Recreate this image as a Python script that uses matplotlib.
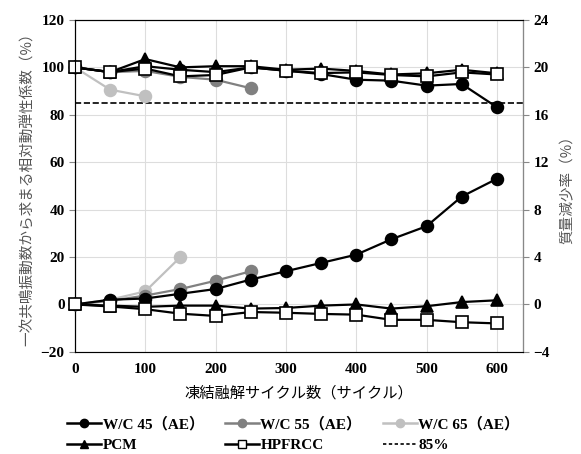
import matplotlib.pyplot as plt
from matplotlib.lines import Line2D
import numpy as np

plt.rcParams['font.family'] = ['Noto Sans CJK JP', 'DejaVu Sans']

cycles = [0, 50, 100, 150, 200, 250, 300, 350, 400, 450, 500, 550, 600]

# relative dynamic modulus (left axis, %)
rdm_wc45 = [100, 98, 100.5, 99, 98, 100, 98.6, 97.2, 94.8, 94.4, 92.3, 93, 83.2]
rdm_wc55 = [100, 98, 98.5, 96, 94.8, 91.2]
rdm_wc65 = [100, 90.6, 87.8]
rdm_pcm = [100, 98, 103.5, 100, 100.5, 100.5, 99, 99.5, 98.5, 97, 97.5, 99, 97.5]
rdm_hpf = [100, 98, 99.5, 96.2, 96.8, 100, 98.6, 97.6, 97.9, 96.8, 96.2, 97.9, 97]

# mass loss (right axis, %)
ml_wc45 = [0, 0.4, 0.5, 0.9, 1.3, 2.1, 2.8, 3.5, 4.2, 5.5, 6.6, 9.1, 10.6]
ml_wc55 = [0, 0.3, 0.75, 1.3, 2.0, 2.8]
ml_wc65 = [0, 0.4, 1.1, 4.0]
ml_pcm = [0, -0.1, -0.2, -0.1, -0.1, -0.35, -0.3, -0.1, 0, -0.35, -0.15, 0.2, 0.35]
ml_hpf = [0, -0.17, -0.4, -0.78, -0.97, -0.64, -0.7, -0.8, -0.86, -1.3, -1.3, -1.5, -1.6]

threshold = 85

fig = plt.figure(figsize=(5.81, 4.54), dpi=100)
ax = fig.add_axes([0.129, 0.225, 0.771, 0.731])
ax2 = ax.twinx()

c45, c55, c65 = 'black', '#808080', '#c0c0c0'
ms = 8.5


def draw(axis, ys, color, marker, mfc):
    x = cycles[:len(ys)]
    axis.plot(x, ys, color=color, lw=1.6, marker=marker, ms=ms,
              mfc=mfc, mec=color, mew=1.2, clip_on=False, zorder=3)


for axis, sets in [(ax, [rdm_wc65, rdm_wc55, rdm_wc45, rdm_pcm, rdm_hpf]),
                   (ax2, [ml_wc65, ml_wc55, ml_wc45, ml_pcm, ml_hpf])]:
    draw(axis, sets[0], c65, 'o', c65)
    draw(axis, sets[1], c55, 'o', c55)
    draw(axis, sets[2], c45, 'o', c45)
    draw(axis, sets[3], 'black', '^', 'black')
    draw(axis, sets[4], 'black', 's', 'white')

ax.axhline(threshold, color='black', ls='--', lw=1.2, zorder=2)

ax.set_xlim(0, 637)
ax.set_ylim(-20, 120)
ax2.set_ylim(-4, 24)
ax.set_xticks(range(0, 601, 100))
ax.set_yticks(range(-20, 121, 20))
ax2.set_yticks(range(-4, 25, 4))
ax.grid(True, color='#dddddd', lw=0.8)
ax.set_axisbelow(True)

for axis in (ax, ax2):
    for lab in axis.get_xticklabels() + axis.get_yticklabels():
        lab.set_fontproperties('Liberation Serif')
        lab.set_fontweight('bold')
        lab.set_fontsize(11)
    axis.tick_params(length=4, width=0.8, color='#888888')

ax.spines['left'].set_color('black')
ax.spines['top'].set_color('black')
ax.spines['bottom'].set_color('#888888')
ax2.spines['right'].set_color('#888888')
ax2.spines['top'].set_color('black')
ax.tick_params(axis='x', length=0, pad=8)

ax.set_xlabel('凍結融解サイクル数（サイクル）', fontsize=11, labelpad=6)
ax.set_ylabel('一次共鳴振動数から求まる相対動弾性係数（%）', fontsize=10.5,
              color='#555555', labelpad=4)
ax2.set_ylabel('質量減少率（%）', fontsize=10.5, color='#555555', labelpad=8)

handles = [
    Line2D([], [], color=c45, marker='o', mfc=c45, ms=6, lw=1.8),
    Line2D([], [], color='black', marker='^', mfc='black', ms=6, lw=1.8),
    Line2D([], [], color=c55, marker='o', mfc=c55, ms=6, lw=1.8),
    Line2D([], [], color='black', marker='s', mfc='white', ms=6, lw=1.8),
    Line2D([], [], color=c65, marker='o', mfc=c65, ms=6, lw=1.8),
    Line2D([], [], color='black', ls=(0, (2, 1.5)), lw=1.2),
]
labels = ['W/C 45（AE）', 'PCM', 'W/C 55（AE）', 'HPFRCC', 'W/C 65（AE）', '85%']
leg = fig.legend(handles, labels, ncol=3, loc='lower center',
                 bbox_to_anchor=(0.505, 0.0), frameon=False,
                 handlelength=2.2, handletextpad=0.1, columnspacing=1.4,
                 labelspacing=0.46, borderaxespad=0, borderpad=0.1,
                 prop={'family': ['Liberation Serif', 'Noto Sans CJK JP'],
                       'weight': 'bold', 'size': 11})

fig.savefig('out.png', dpi=100)
